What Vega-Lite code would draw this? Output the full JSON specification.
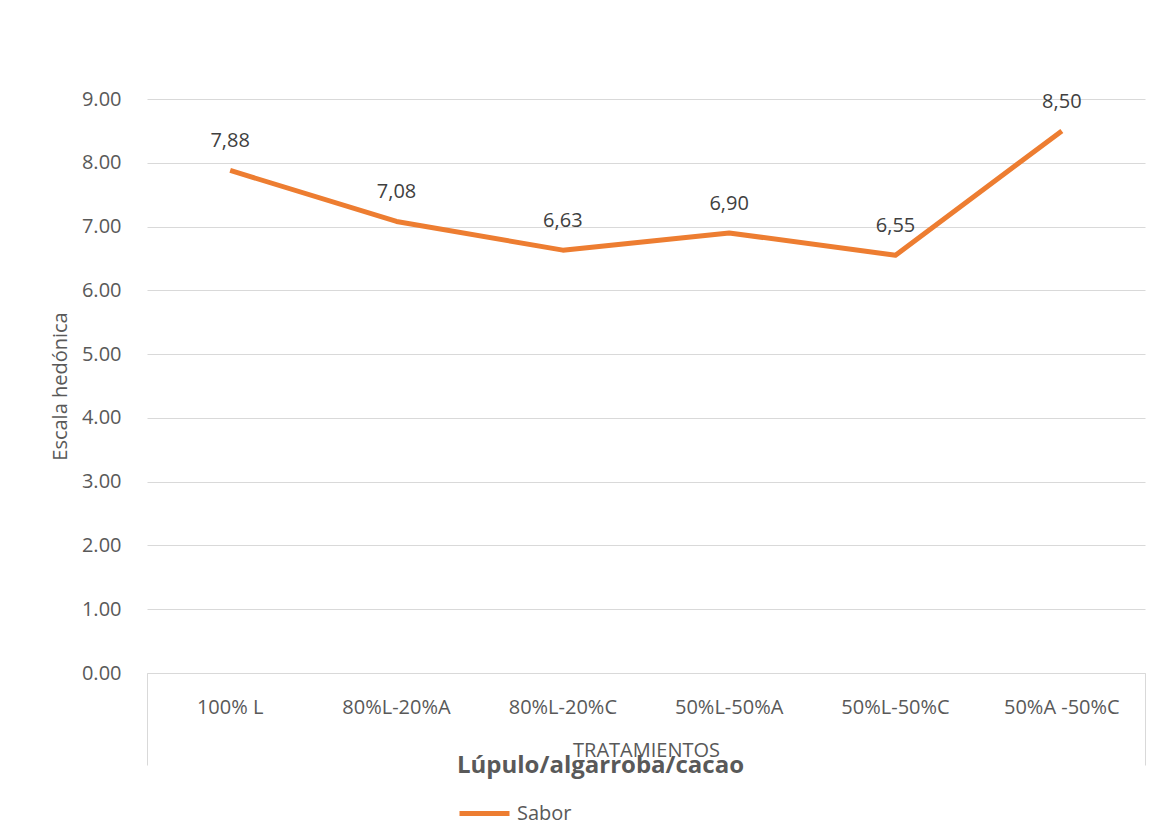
{
  "$schema": "https://vega.github.io/schema/vega-lite/v6.json",
  "autosize": "none",
  "width": 998,
  "height": 574,
  "padding": {"left": 147, "top": 99, "right": 17, "bottom": 161},
  "background": "white",
  "config": {
    "font": "Open Sans",
    "view": {"stroke": null},
    "axis": {"labelFont": "Open Sans", "titleFont": "Open Sans"}
  },
  "data": {
    "values": [
      {"tratamiento": "100% L", "sabor": 7.88, "serie": "Sabor"},
      {"tratamiento": "80%L-20%A", "sabor": 7.08, "serie": "Sabor"},
      {"tratamiento": "80%L-20%C", "sabor": 6.63, "serie": "Sabor"},
      {"tratamiento": "50%L-50%A", "sabor": 6.90, "serie": "Sabor"},
      {"tratamiento": "50%L-50%C", "sabor": 6.55, "serie": "Sabor"},
      {"tratamiento": "50%A -50%C", "sabor": 8.50, "serie": "Sabor"}
    ]
  },
  "encoding": {
    "x": {
      "field": "tratamiento",
      "type": "nominal",
      "sort": null,
      "scale": {"type": "band", "paddingInner": 0, "paddingOuter": 0},
      "axis": {
        "title": "TRATAMIENTOS",
        "titleFontSize": 20,
        "titleFontWeight": "normal",
        "titleColor": "#595959",
        "titleY": 77,
        "titleBaseline": "middle",
        "labelAngle": 0,
        "labelFontSize": 20,
        "labelColor": "#595959",
        "labelPadding": -68,
        "domain": true,
        "domainColor": "#d9d9d9",
        "domainWidth": 1,
        "ticks": true,
        "tickSize": 92,
        "bandPosition": 1,
        "tickExtra": true,
        "tickColor": {
          "condition": {"test": "datum.value === '50%A -50%C' || datum.value == null", "value": "#d9d9d9"},
          "value": "rgba(0,0,0,0)"
        },
        "grid": false
      }
    },
    "y": {
      "field": "sabor",
      "type": "quantitative",
      "scale": {"domain": [0, 9], "nice": false, "zero": true},
      "axis": {
        "title": "Escala hedónica",
        "titleFontSize": 20,
        "titleFontWeight": "normal",
        "titleColor": "#595959",
        "titleX": -87,
        "titleY": 287,
        "titleAngle": -90,
        "titleBaseline": "middle",
        "titleAlign": "center",
        "values": [0, 1, 2, 3, 4, 5, 6, 7, 8, 9],
        "format": ".2f",
        "labelFontSize": 20,
        "labelColor": "#595959",
        "labelPadding": 26,
        "ticks": false,
        "domain": false,
        "grid": true,
        "gridColor": "#d9d9d9",
        "gridWidth": 1
      }
    }
  },
  "layer": [
    {
      "mark": {"type": "line", "strokeWidth": 5, "strokeJoin": "round"},
      "encoding": {
        "color": {
          "field": "serie",
          "type": "nominal",
          "scale": {"range": ["#ED7D31"]},
          "legend": {
            "orient": "none",
            "legendX": 310,
            "legendY": 655,
            "direction": "horizontal",
            "title": "Lúpulo/algarroba/cacao",
            "titleFontSize": 24,
            "titleFontWeight": "bold",
            "titleColor": "#595959",
            "titleAnchor": "start",
            "titleLimit": 500,
            "titlePadding": 8,
            "padding": 0,
            "symbolType": "stroke",
            "symbolSize": 2500,
            "symbolStrokeWidth": 5,
            "labelFontSize": 20,
            "labelColor": "#595959",
            "labelOffset": 5
          }
        }
      }
    },
    {
      "transform": [
        {"calculate": "replace(format(datum.sabor, '.2f'), '.', ',')", "as": "etiqueta"}
      ],
      "mark": {"type": "text", "fontSize": 20, "color": "#404040", "dy": -29, "baseline": "middle"},
      "encoding": {
        "text": {"field": "etiqueta"}
      }
    }
  ]
}
